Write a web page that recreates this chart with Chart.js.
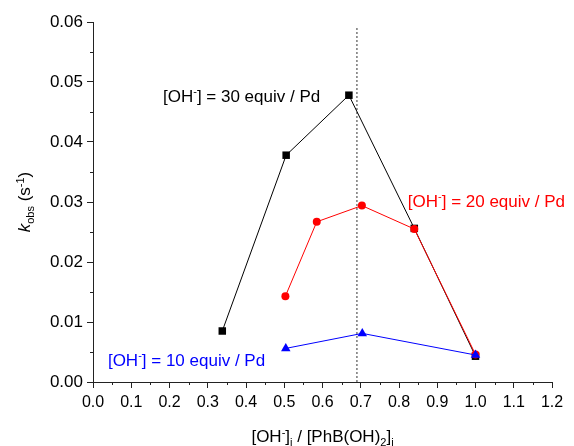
<!DOCTYPE html>
<html>
<head>
<meta charset="utf-8">
<script src="https://cdn.jsdelivr.net/npm/chart.js@4/dist/chart.umd.min.js"></script>
<style>
  body { margin: 0; background: #fff; }
</style>
</head>
<body>
<canvas id="kobsChart" width="574" height="446"></canvas>
<script>
// values
const ratio30 = [0.338, 0.505, 0.669, 0.84, 1.0];
const kobs30 = [0.0085, 0.0378, 0.0478, 0.0256, 0.0043];
const ratio20 = [0.503, 0.585, 0.703, 0.84, 1.0];
const kobs20 = [0.0143, 0.0267, 0.0294, 0.0255, 0.0046];
const ratio10 = [0.504, 0.704, 1.0];
const kobs10 = [0.0056, 0.0081, 0.0045];
const dividerX = 0.69;
const dividerTop = 0.0592;

const labels = [
  { text: '30', x: 0.183, y: 0.0477, color: '#000000' },
  { text: '20', x: 0.823, y: 0.0302, color: '#ff0000' },
  { text: '10', x: 0.039, y: 0.0037, color: '#0000ff' }
];

const pts = (xs, ys) => xs.map((x, i) => ({ x: x, y: ys[i] }));
const FONT = '"Liberation Sans", Arial, sans-serif';

// draws a run of [text, kind] pieces, kind: n normal, sup, sub, it
function richText(ctx, parts, x, y, size, align) {
  const fontFor = k => (k === 'sup' || k === 'sub' ? Math.round(size * 0.62) + 'px ' : (k === 'it' ? 'italic ' + size + 'px ' : size + 'px ')) + FONT;
  let total = 0;
  parts.forEach(p => { ctx.font = fontFor(p[1]); total += ctx.measureText(p[0]).width; });
  let cx = align === 'center' ? x - total / 2 : x;
  ctx.textBaseline = 'alphabetic';
  ctx.textAlign = 'left';
  parts.forEach(p => {
    ctx.font = fontFor(p[1]);
    let dy = 0;
    if (p[1] === 'sup') dy = -size * 0.38;
    if (p[1] === 'sub') dy = size * 0.22;
    ctx.fillText(p[0], cx, y + dy);
    cx += ctx.measureText(p[0]).width;
  });
}

const extras = {
  id: 'extras',
  afterDraw(chart) {
    const ctx = chart.ctx;
    const xs = chart.scales.x, ys = chart.scales.y;
    ctx.save();
    // minor ticks
    ctx.strokeStyle = '#222';
    ctx.lineWidth = 1;
    ctx.beginPath();
    for (let v = 0.05; v < 1.2; v += 0.1) {
      const px = Math.round(xs.getPixelForValue(v)) + 0.5;
      ctx.moveTo(px, ys.bottom);
      ctx.lineTo(px, ys.bottom + 3);
    }
    for (let v = 0.005; v < 0.06; v += 0.01) {
      const py = Math.round(ys.getPixelForValue(v)) + 0.5;
      ctx.moveTo(xs.left, py);
      ctx.lineTo(xs.left - 3, py);
    }
    ctx.stroke();

    // axis titles
    ctx.fillStyle = '#000';
    richText(ctx, [['[OH', 'n'], ['-', 'sup'], [']', 'n'], ['i', 'sub'], [' / [PhB(OH)', 'n'], ['2', 'sub'], [']', 'n'], ['i', 'sub']],
      (xs.left + xs.right) / 2, 442, 17, 'center');
    ctx.save();
    ctx.translate(30, (ys.top + ys.bottom) / 2);
    ctx.rotate(-Math.PI / 2);
    richText(ctx, [['k', 'it'], ['obs', 'sub'], [' (s', 'n'], ['-1', 'sup'], [')', 'n']], 0, 0, 17, 'center');
    ctx.restore();

    // series labels
    labels.forEach(l => {
      ctx.fillStyle = l.color;
      richText(ctx, [['[OH', 'n'], ['-', 'sup'], ['] = ' + l.text + ' equiv / Pd', 'n']],
        xs.getPixelForValue(l.x), ys.getPixelForValue(l.y) + 6, 17, 'left');
    });
    ctx.restore();
  }
};

new Chart(document.getElementById('kobsChart'), {
  type: 'scatter',
  data: {
    datasets: [
      {
        label: '10 equiv',
        data: pts(ratio10, kobs10),
        showLine: true,
        borderColor: '#0000ff',
        backgroundColor: '#0000ff',
        borderWidth: 1,
        pointStyle: 'triangle',
        pointRadius: 5.5,
        pointBorderWidth: 0
      },
      {
        label: '20 equiv',
        data: pts(ratio20, kobs20),
        showLine: true,
        borderColor: '#ff0000',
        backgroundColor: '#ff0000',
        borderWidth: 1,
        pointStyle: 'circle',
        pointRadius: 4,
        pointBorderWidth: 0
      },
      {
        label: '30 equiv',
        data: pts(ratio30, kobs30),
        showLine: true,
        borderColor: '#000000',
        backgroundColor: '#000000',
        borderWidth: 1,
        pointStyle: 'rect',
        pointRadius: 5.3,
        pointBorderWidth: 0
      },
      {
        label: 'divider',
        data: [{ x: dividerX, y: 0 }, { x: dividerX, y: dividerTop }],
        showLine: true,
        borderColor: '#555',
        borderWidth: 1.2,
        borderDash: [2, 2],
        pointRadius: 0
      }
    ]
  },
  options: {
    responsive: false,
    animation: false,
    layout: { padding: { top: 22, right: 22, left: 0, bottom: 0 } },
    plugins: {
      legend: { display: false },
      tooltip: { enabled: false }
    },
    scales: {
      x: {
        type: 'linear',
        min: 0,
        max: 1.2,
        afterFit: s => { s.height = 64; },
        ticks: {
          stepSize: 0.1,
          color: '#000',
          font: { family: FONT, size: 16 },
          padding: 5,
          maxRotation: 0,
          callback: v => v.toFixed(1)
        },
        grid: { drawOnChartArea: false, tickLength: 6, color: '#222' },
        border: { color: '#222', width: 1 }
      },
      y: {
        min: 0,
        max: 0.06,
        afterFit: s => { s.width = 93; },
        ticks: {
          stepSize: 0.01,
          color: '#000',
          font: { family: FONT, size: 17 },
          padding: 4,
          callback: v => v.toFixed(2)
        },
        grid: { drawOnChartArea: false, tickLength: 6, color: '#222' },
        border: { color: '#222', width: 1 }
      }
    }
  },
  plugins: [extras]
});
</script>
</body>
</html>
